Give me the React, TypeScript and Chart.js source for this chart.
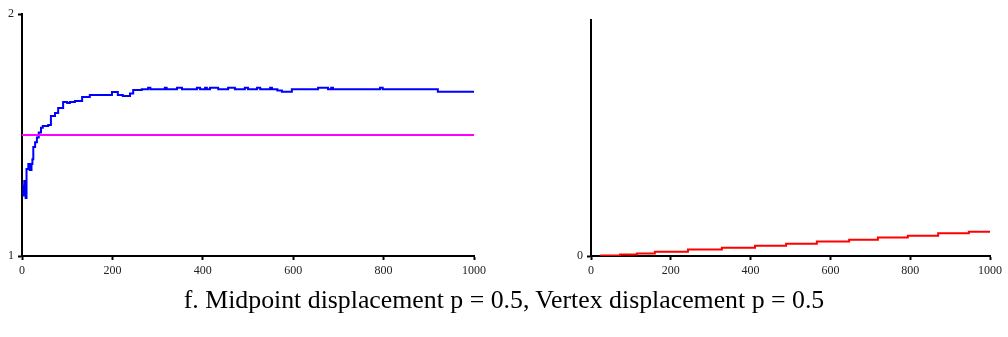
import React, { useEffect, useRef } from 'react';
import { Chart, registerables } from 'chart.js';

Chart.register(...registerables);

// Left panel: estimated dimension (blue step line) vs. reference 1.5 (magenta)
const blueX = [0, 3, 5, 8, 10, 14, 17, 21, 23, 25, 29, 33, 37, 42, 46, 58, 64, 73, 80, 91, 100, 106, 117, 133, 150, 199, 212, 223, 239, 246, 265, 279, 284, 316, 320, 343, 354, 387, 394, 405, 409, 416, 434, 456, 471, 493, 500, 520, 527, 549, 553, 565, 575, 597, 655, 677, 684, 688, 792, 798, 920, 1000];
const blueY = [1.29, 1.25, 1.31, 1.24, 1.36, 1.38, 1.355, 1.38, 1.4, 1.45, 1.47, 1.49, 1.51, 1.53, 1.537, 1.541, 1.579, 1.591, 1.612, 1.636, 1.632, 1.636, 1.64, 1.657, 1.665, 1.678, 1.665, 1.661, 1.672, 1.686, 1.689, 1.695, 1.689, 1.695, 1.689, 1.695, 1.689, 1.695, 1.689, 1.695, 1.689, 1.695, 1.689, 1.695, 1.689, 1.695, 1.689, 1.695, 1.689, 1.695, 1.689, 1.684, 1.679, 1.689, 1.695, 1.689, 1.695, 1.689, 1.695, 1.689, 1.679, 1.679];
const refX = [0, 1000];
const refY = [1.5, 1.5];

// Right panel: red step line
const redX = [23, 73, 115, 160, 243, 328, 411, 489, 566, 647, 719, 794, 870, 947, 1000];
const redY = [0.002, 0.006, 0.011, 0.018, 0.028, 0.035, 0.043, 0.052, 0.061, 0.069, 0.078, 0.086, 0.096, 0.103, 0.103];

const xTicks = [0, 200, 400, 600, 800, 1000];
const leftYTicks = [1, 2];
const rightYTicks = [0];
const caption = 'f. Midpoint displacement p = 0.5, Vertex displacement p = 0.5';

const FONT = '"Liberation Serif", "Times New Roman", serif';

function pts(xs: number[], ys: number[]) {
  return xs.map((x, i) => ({ x, y: ys[i] }));
}

function axis(min: number, max: number, tickVals: number[], fit: (s: any) => void, pad: number) {
  return {
    type: 'linear' as const,
    min,
    max,
    afterBuildTicks: (s: any) => {
      s.ticks = tickVals.map((v) => ({ value: v }));
    },
    afterFit: fit,
    grid: {
      display: true,
      drawOnChartArea: false,
      drawTicks: true,
      tickLength: 4,
      tickWidth: 2,
      color: '#000',
    },
    border: { display: true, color: '#000', width: 2 },
    ticks: {
      autoSkip: false,
      maxRotation: 0,
      padding: pad,
      color: '#222',
      font: { family: FONT, size: 12 },
      callback: (v: any) => String(v),
    },
  };
}

function LeftChart() {
  const ref = useRef<HTMLCanvasElement | null>(null);
  useEffect(() => {
    if (!ref.current) return;
    const chart = new Chart(ref.current, {
      type: 'line',
      data: {
        datasets: [
          { data: pts(refX, refY), borderColor: '#ff00ff', borderWidth: 2, pointRadius: 0, fill: false },
          { data: pts(blueX, blueY), borderColor: '#0000ff', borderWidth: 2, pointRadius: 0, fill: false, stepped: 'before' },
        ],
      },
      options: {
        animation: false,
        responsive: false,
        devicePixelRatio: 1,
        layout: { padding: { top: 14, right: 26, left: 0, bottom: 0 } },
        plugins: { legend: { display: false }, tooltip: { enabled: false } },
        scales: {
          x: axis(0, 1000, xTicks, (s: any) => { s.height = 30; }, 4),
          y: axis(1, 2, leftYTicks, (s: any) => { s.width = 22; }, 4),
        },
      } as any,
    });
    return () => chart.destroy();
  }, []);
  return <canvas ref={ref} width={500} height={286} style={{ position: 'absolute', left: 0, top: 0, display: 'block' }} />;
}

function RightChart() {
  const ref = useRef<HTMLCanvasElement | null>(null);
  useEffect(() => {
    if (!ref.current) return;
    const chart = new Chart(ref.current, {
      type: 'line',
      data: {
        datasets: [
          { data: pts(redX, redY), borderColor: '#ff0000', borderWidth: 2, pointRadius: 0, fill: false, stepped: 'before' },
        ],
      },
      options: {
        animation: false,
        responsive: false,
        devicePixelRatio: 1,
        layout: { padding: { top: 20, right: 18, left: 0, bottom: 0 } },
        plugins: { legend: { display: false }, tooltip: { enabled: false } },
        scales: {
          x: axis(0, 1000, xTicks, (s: any) => { s.height = 30; }, 4),
          y: axis(0, 1, rightYTicks, (s: any) => { s.width = 31; }, 4),
        },
      } as any,
    });
    return () => chart.destroy();
  }, []);
  return <canvas ref={ref} width={448} height={286} style={{ position: 'absolute', left: 560, top: 0, display: 'block' }} />;
}

export default function App() {
  return (
    <div style={{ position: 'fixed', left: 0, top: 0, width: 1008, height: 337, background: '#fff', overflow: 'hidden' }}>
      <LeftChart />
      <RightChart />
      <div
        style={{
          position: 'absolute',
          left: 0,
          top: 285,
          width: 1008,
          textAlign: 'center',
          fontFamily: FONT,
          fontSize: 25.8,
          color: '#000',
          whiteSpace: 'nowrap',
        }}
      >
        {caption}
      </div>
    </div>
  );
}
